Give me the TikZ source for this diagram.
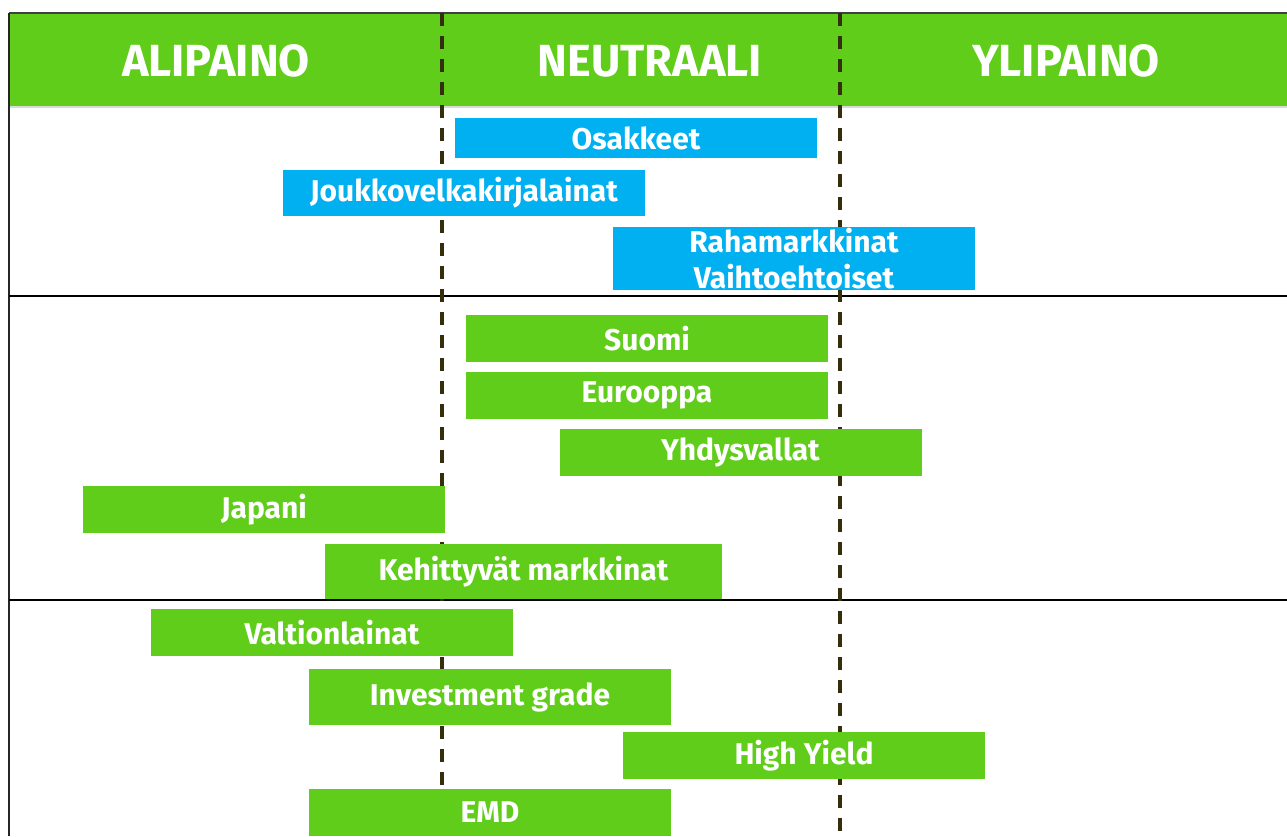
\documentclass[tikz,border=0pt]{standalone}
\usepackage{fontspec}
\setmainfont{Fira Sans}
\definecolor{hdrgreen}{RGB}{96,205,26}
\definecolor{barblue}{RGB}{0,176,240}
\definecolor{dashcol}{RGB}{52,46,12}
\tikzset{
  barbox/.style={fill=hdrgreen, text=white, inner sep=0pt, minimum width=362pt, minimum height=47pt, font=\fontsize{30}{36}\selectfont\bfseries, align=center},
  bluebox/.style={barbox, fill=barblue},
  hdrtext/.style={text=white, font=\fontsize{45}{47}\selectfont\bfseries, inner sep=0pt},
  neutral/.style={dashcol, line width=3.5pt, dash pattern=on 13pt off 10pt},
  rowsep/.style={black, line width=2.5pt},
}
\begin{document}
\begin{tikzpicture}[x=1pt,y=-1pt]
\useasboundingbox (0,0) rectangle (1287,836);
% header
\fill[hdrgreen] (9,13) rectangle (1287,106);
\draw[gray!30, line width=2pt] (9,107) -- (1287,107);
\draw[black!75, line width=1.5pt] (9,13) -- (1287,13);
\draw[black!85, line width=2pt] (9,13) -- (9,836);
\node[hdrtext] (ali) at (216,61) {ALIPAINO};
\node[hdrtext] (neu) at (650,61) {NEUTRAALI};
\node[hdrtext] (yli) at (1066,61) {YLIPAINO};
% row separators
\draw[rowsep] (9,296) -- (1287,296);
\draw[rowsep] (9,600) -- (1287,600);
% neutral boundaries
\coordinate (d1t) at (442,13); \coordinate (d1b) at (442,832);
\coordinate (d2t) at (840,13); \coordinate (d2b) at (840,832);
\draw[neutral] (d1t) -- (d1b);
\draw[neutral] (d2t) -- (d2b);
% asset classes
\node[bluebox, minimum height=40pt] (osa) at (636,138) {Osakkeet};
\node[bluebox, minimum height=46pt] (jvk) at (464,193) {Joukkovelkakirjalainat};
\node[bluebox, minimum height=63pt] (raha) at (794,258.5) {Rahamarkkinat\\Vaihtoehtoiset};
% regions
\node[barbox] (suo) at (647,338.5) {Suomi};
\node[barbox] (eur) at (647,395.5) {Eurooppa};
\node[barbox] (yhd) at (740.5,452.5) {Yhdysvallat};
\node[barbox] (jap) at (264,509.5) {Japani};
\node[barbox, minimum width=397pt, minimum height=55pt] (keh) at (523.5,571.5) {Kehittyvät markkinat};
% fixed income
\node[barbox] (val) at (332,632.5) {Valtionlainat};
\node[barbox, minimum height=56pt] (inv) at (490,697) {Investment grade};
\node[barbox] (hy) at (804,755.5) {High Yield};
\node[barbox] (emd) at (490,812.5) {EMD};
\end{tikzpicture}
\end{document}
